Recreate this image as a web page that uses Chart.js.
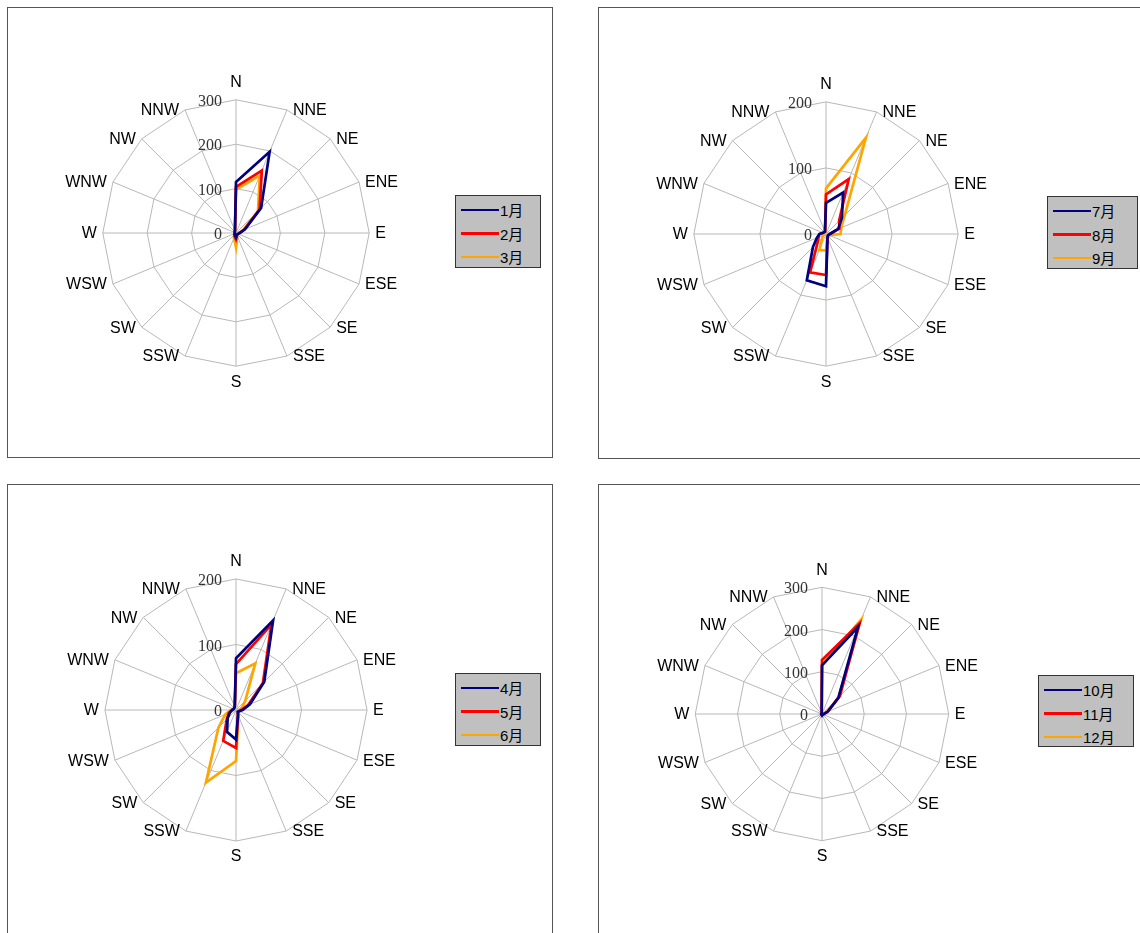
<!DOCTYPE html>
<html>
<head>
<meta charset="utf-8">
<script src="https://cdn.jsdelivr.net/npm/chart.js@4.4.1/dist/chart.umd.min.js"></script>
<style>
  html, body { margin: 0; padding: 0; background: #fff; width: 1140px; height: 933px; overflow: hidden; position: relative; }
  .panel { position: absolute; border: 1px solid #555; background: #fff; box-sizing: border-box; }
  canvas { position: absolute; }
  .legend { position: absolute; background: #c0c0c0; border: 1px solid #333; box-sizing: border-box;
            font-family: "Liberation Sans", "Noto Sans CJK TC", sans-serif; font-size: 15px; color: #000; padding-top: 2px; }
  .legend .item { height: 23.5px; display: flex; align-items: center; }
  .legend .sw { display: inline-block; width: 38px; height: 2.5px; margin-left: 5px; margin-right: 1px; }
</style>
</head>
<body>
<script>
// ---- data ----
const directions = ['N','NNE','NE','ENE','E','ESE','SE','SSE','S','SSW','SW','WSW','W','WNW','NW','NNW'];

const seriesNames1 = ['1月','2月','3月'];
const jan = [115, 198, 80, 22, 8, 5, 4, 5, 10, 6, 4, 3, 3, 3, 4, 6];
const feb = [104, 152, 75, 20, 8, 5, 4, 6, 14, 8, 5, 4, 3, 3, 4, 6];
const mar = [98, 140, 70, 18, 7, 5, 4, 8, 32, 12, 6, 4, 3, 3, 4, 6];

const seriesNames2 = ['7月','8月','9月'];
const jul = [47, 68, 34, 20, 6, 4, 4, 6, 79, 76, 28, 15, 10, 5, 4, 4];
const aug = [60, 90, 28, 22, 6, 4, 4, 6, 62, 63, 18, 12, 10, 5, 4, 4];
const sep = [69, 158, 40, 25, 22, 5, 4, 6, 25, 26, 8, 5, 4, 3, 3, 3];

const seriesNames3 = ['4月','5月','6月'];
const apr = [79, 148, 61, 23, 10, 5, 4, 8, 45, 36, 18, 10, 6, 4, 4, 5];
const may = [70, 141, 58, 20, 8, 5, 4, 8, 58, 51, 20, 12, 6, 4, 4, 5];
const jun = [56, 77, 20, 10, 6, 4, 4, 10, 78, 120, 38, 18, 8, 4, 4, 5];

const seriesNames4 = ['10月','11月','12月'];
const oct = [115, 223, 55, 15, 4, 3, 2, 2, 3, 2, 2, 2, 2, 2, 2, 2];
const nov = [128, 232, 60, 15, 4, 3, 2, 2, 3, 2, 2, 2, 2, 2, 2, 2];
const dec = [116, 242, 55, 12, 4, 3, 2, 2, 3, 2, 2, 2, 2, 2, 2, 2];

const colors = ['#000080', '#ff0000', '#ffa500'];

// ---- layout ----
const PAD = 40;
const panels = [
  { box: [7, 7, 546, 451],   center: [232, 234], size: 334, max: 300, names: seriesNames1, data: [jan, feb, mar], legend: [455, 195, 86, 73] },
  { box: [598, 7, 560, 452], center: [822, 235], size: 332, max: 200, names: seriesNames2, data: [jul, aug, sep], legend: [1047, 196, 91, 73] },
  { box: [7, 484, 546, 470], center: [232, 711], size: 330, max: 200, names: seriesNames3, data: [apr, may, jun], legend: [455, 673, 86, 73] },
  { box: [598, 484, 560, 470], center: [818, 715], size: 322, max: 300, names: seriesNames4, data: [oct, nov, dec], legend: [1038, 675, 96, 72] }
];

// tick labels: right-aligned to the left of the N axis (Excel style)
const tickLabelPlugin = {
  id: 'tickLabels',
  afterDatasetsDraw(chart) {
    const s = chart.scales.r;
    const ctx = chart.ctx;
    ctx.save();
    ctx.font = '16px "Liberation Serif", serif';
    ctx.fillStyle = '#333';
    ctx.textAlign = 'right';
    ctx.textBaseline = 'middle';
    s.ticks.forEach(t => {
      const d = s.getDistanceFromCenterForValue(t.value);
      ctx.fillText(String(t.value), s.xCenter - 14, s.yCenter - d + 2);
    });
    ctx.restore();
  }
};

// category labels: placed next to each outer vertex, vertically centred (Excel style)
const pointLabelPlugin = {
  id: 'dirLabels',
  afterDraw(chart) {
    const s = chart.scales.r;
    const ctx = chart.ctx;
    ctx.save();
    ctx.font = '16px "Liberation Sans", sans-serif';
    ctx.fillStyle = '#000';
    ctx.textBaseline = 'middle';
    chart.data.labels.forEach((lab, i) => {
      const p = s.getPointPosition(i, s.drawingArea);
      const dx = p.x - s.xCenter, dy = p.y - s.yCenter;
      if (Math.abs(dx) < 1) {
        ctx.textAlign = 'center';
        ctx.fillText(lab, p.x, dy < 0 ? p.y - 17 : p.y + 16);
      } else if (dx > 0) {
        ctx.textAlign = 'left';
        ctx.fillText(lab, p.x + 6, p.y + 1);
      } else {
        ctx.textAlign = 'right';
        ctx.fillText(lab, p.x - 6, p.y + 1);
      }
    });
    ctx.restore();
  }
};

panels.forEach(p => {
  const S = p.size + 2 * PAD;
  const div = document.createElement('div');
  div.className = 'panel';
  div.style.left = p.box[0] + 'px'; div.style.top = p.box[1] + 'px';
  div.style.width = p.box[2] + 'px'; div.style.height = p.box[3] + 'px';
  document.body.appendChild(div);

  const cv = document.createElement('canvas');
  cv.width = S; cv.height = S;
  cv.style.left = (p.center[0] - S / 2) + 'px';
  cv.style.top = (p.center[1] - S / 2) + 'px';
  cv.style.width = S + 'px'; cv.style.height = S + 'px';
  document.body.appendChild(cv);

  new Chart(cv, {
    type: 'radar',
    data: {
      labels: directions,
      datasets: p.names.map((n, i) => ({
        label: n, data: p.data[i], borderColor: colors[i], backgroundColor: colors[i],
        borderWidth: 2.7, pointRadius: 0, fill: false, tension: 0
      }))
    },
    options: {
      responsive: false, animation: false, devicePixelRatio: 1,
      plugins: { legend: { display: false }, tooltip: { enabled: false } },
      layout: { padding: PAD },
      scales: {
        r: {
          min: 0, max: p.max,
          ticks: { stepSize: 100, display: false },
          grid: { color: '#b8b8b8', lineWidth: 1, circular: false },
          angleLines: { color: '#b8b8b8', lineWidth: 1 },
          pointLabels: { font: { family: '"Liberation Sans", sans-serif', size: 14 }, color: 'rgba(0,0,0,0)', padding: 8 }
        }
      }
    },
    plugins: [tickLabelPlugin, pointLabelPlugin]
  });

  const lg = document.createElement('div');
  lg.className = 'legend';
  lg.style.left = p.legend[0] + 'px'; lg.style.top = p.legend[1] + 'px';
  lg.style.width = p.legend[2] + 'px'; lg.style.height = p.legend[3] + 'px';
  p.names.forEach((n, i) => {
    const it = document.createElement('div');
    it.className = 'item';
    const sw = document.createElement('span');
    sw.className = 'sw'; sw.style.background = colors[i];
    it.appendChild(sw);
    it.appendChild(document.createTextNode(n));
    lg.appendChild(it);
  });
  document.body.appendChild(lg);
});
</script>
</body>
</html>
